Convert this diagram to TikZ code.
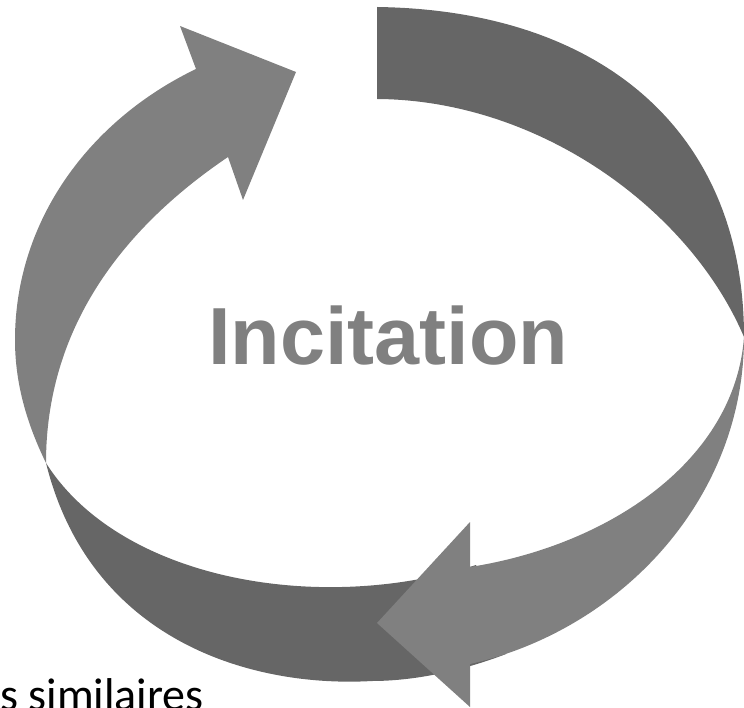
\documentclass[tikz,border=0pt]{standalone}
\usepackage{fontspec}
\setmainfont{Liberation Sans}
\newfontfamily\labelfont{Carlito}
\definecolor{bandlight}{HTML}{808080}
\definecolor{banddark}{HTML}{666666}
\tikzset{
  lightband/.style={fill=bandlight},
  darkband/.style={fill=banddark},
}
\begin{document}
\begin{tikzpicture}[x=1pt,y=-1pt]
\useasboundingbox (0,0) rectangle (744,708);

% back side of the lower ribbon
\fill[darkband] (46,463) .. controls (90,640) and (250,688) .. (372,681)
  .. controls (420,681) and (470,668) .. (506,654) -- (476,565)
  .. controls (320,615) and (120,580) .. (46,463) -- cycle;

% back side of the upper ribbon
\fill[darkband] (377,7) .. controls (600,10) and (744,130) .. (744,337)
  .. controls (690,210) and (540,100) .. (377,99) -- cycle;

% front of the left arrow
\fill[lightband] (46,463) .. controls (25,420) and (15,380) .. (15,340)
  .. controls (15,220) and (90,120) .. (196,69)
  -- (180,26) -- (296,72) -- (243,200) -- (228,157)
  .. controls (120,230) and (46,330) .. (46,463) -- cycle;

% front of the right arrow
\fill[lightband] (744,337) .. controls (744,500) and (620,630) .. (470,664)
  -- (470,707) -- (377,623) -- (470,522) -- (470,567)
  .. controls (610,545) and (735,460) .. (744,337) -- cycle;

\node[anchor=base, text=bandlight, font=\bfseries\fontsize{81}{90}\selectfont] (incit) at (388,365) {Incitation};
\node[anchor=base west, inner sep=0pt, font=\labelfont\fontsize{46}{50}\selectfont] (simil) at (0,710) {s similaires};
\end{tikzpicture}
\end{document}
